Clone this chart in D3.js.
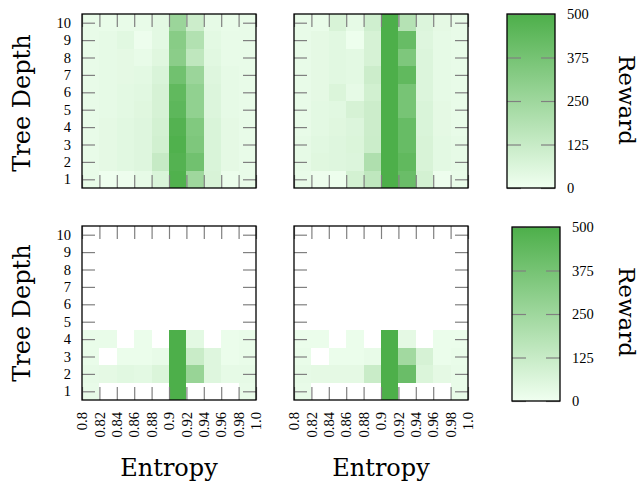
<!DOCTYPE html>
<html>
<head>
<meta charset="utf-8">
<script src="https://cdn.jsdelivr.net/npm/d3@7"></script>
<style>
  body { margin: 0; background: #fff; }
  svg { display: block; }
</style>
</head>
<body>
<svg id="chart" width="640" height="486"></svg>
<script>
// tick values and labels
var entropyTicks = [0.8, 0.82, 0.84, 0.86, 0.88, 0.9, 0.92, 0.94, 0.96, 0.98, 1.0];
var entropyLabels = ["0.8", "0.82", "0.84", "0.86", "0.88", "0.9", "0.92", "0.94", "0.96", "0.98", "1.0"];
var depths = [1, 2, 3, 4, 5, 6, 7, 8, 9, 10];
var rewardTicks = [0, 125, 250, 375, 500];

// reward per cell, row i = tree depth i+1, one column per entropy bin (null = no run)
var rewardTopLeft = [
  [25, 5, 10, 30, 70, 490, 250, 75, 15, 25],
  [25, 35, 45, 55, 130, 480, 390, 70, 35, 25],
  [25, 35, 45, 55, 95, 490, 350, 70, 35, 25],
  [25, 35, 45, 55, 90, 480, 340, 70, 35, 25],
  [25, 30, 40, 50, 80, 450, 290, 60, 30, 25],
  [25, 30, 40, 45, 80, 440, 290, 60, 30, 25],
  [25, 30, 35, 40, 70, 390, 260, 55, 30, 25],
  [25, 30, 35, 25, 50, 310, 150, 45, 25, 25],
  [25, 30, 45, 10, 40, 320, 190, 40, 25, 25],
  [25, 20, 25, 25, 40, 260, 110, 30, 20, 25]
];
var rewardTopRight = [
  [25, 10, 8, 90, 150, 500, 410, 90, 10, 25],
  [30, 50, 55, 60, 200, 500, 440, 75, 40, 30],
  [30, 45, 55, 65, 115, 500, 420, 75, 40, 30],
  [25, 40, 50, 60, 110, 500, 420, 70, 35, 25],
  [25, 40, 45, 80, 110, 500, 370, 70, 35, 25],
  [25, 35, 65, 30, 95, 500, 370, 60, 30, 25],
  [25, 35, 45, 40, 110, 500, 440, 60, 30, 25],
  [25, 35, 45, 40, 80, 500, 350, 60, 30, 25],
  [25, 35, 45, 8, 80, 500, 420, 55, 30, 25],
  [25, 20, 75, 30, 100, 500, 180, 60, 35, 25]
];
var rewardBottomLeft = [
  [25, null, null, null, null, 500, null, null, null, 25],
  [30, 35, 45, 40, 65, 500, 270, 55, 30, 30],
  [20, null, 15, 15, 25, 500, 120, 55, 15, 20],
  [20, 20, null, 15, null, 500, 40, null, 15, 20],
  [null, null, null, null, null, null, null, null, null, null],
  [null, null, null, null, null, null, null, null, null, null],
  [null, null, null, null, null, null, null, null, null, null],
  [null, null, null, null, null, null, null, null, null, null],
  [null, null, null, null, null, null, null, null, null, null],
  [null, null, null, null, null, null, null, null, null, null]
];
var rewardBottomRight = [
  [25, null, null, null, null, 500, null, null, null, 25],
  [30, 35, 35, 35, 120, 500, 410, 65, 35, 25],
  [20, null, 15, 15, 25, 500, 240, 80, 15, 20],
  [15, 15, null, 15, null, 500, 35, null, 15, 15],
  [null, null, null, null, null, null, null, null, null, null],
  [null, null, null, null, null, null, null, null, null, null],
  [null, null, null, null, null, null, null, null, null, null],
  [null, null, null, null, null, null, null, null, null, null],
  [null, null, null, null, null, null, null, null, null, null],
  [null, null, null, null, null, null, null, null, null, null]
];

var lightGreen = "rgb(240,255,240)";
var darkGreen = "rgb(77,175,74)";
var tickGray = "#808080";
var serif = "'Liberation Serif', 'Times New Roman', serif";
var titleFont = "'DejaVu Serif', serif";

var svg = d3.select("#chart");

var color = d3.scaleLinear().domain([0, 500]).range([lightGreen, darkGreen]);

// gradient for the colorbars
var grad = svg.append("defs").append("linearGradient")
  .attr("id", "rewardGrad")
  .attr("x1", 0).attr("y1", 1).attr("x2", 0).attr("y2", 0);
grad.append("stop").attr("offset", 0).attr("stop-color", lightGreen);
grad.append("stop").attr("offset", 1).attr("stop-color", darkGreen);

function drawPanel(left, top, data, showY, showX) {
  var size = 174;
  var x = d3.scaleLinear().domain([0.8, 1.0]).range([left, left + size]);
  var y = d3.scaleLinear().domain([0.5, 10.5]).range([top + size, top]);
  var g = svg.append("g");

  // cells
  data.forEach(function(row, r) {
    row.forEach(function(v, c) {
      if (v === null) return;
      var x0 = x(entropyTicks[c]);
      var x1 = x(entropyTicks[c + 1]);
      g.append("rect")
        .attr("x", x0)
        .attr("y", y(depths[r] + 0.5))
        .attr("width", x1 - x0)
        .attr("height", y(depths[r] - 0.5) - y(depths[r] + 0.5))
        .attr("fill", color(v))
        .attr("shape-rendering", "crispEdges");
    });
  });

  // inside ticks on all four sides
  var axes = [
    { ax: d3.axisBottom(x).tickValues(entropyTicks), t: "translate(0," + (top + size) + ")", labels: showX },
    { ax: d3.axisTop(x).tickValues(entropyTicks), t: "translate(0," + top + ")", labels: false },
    { ax: d3.axisLeft(y).tickValues(depths), t: "translate(" + left + ",0)", labels: showY },
    { ax: d3.axisRight(y).tickValues(depths), t: "translate(" + (left + size) + ",0)", labels: false }
  ];
  axes.forEach(function(a, k) {
    a.ax.tickSize(-13).tickPadding(11);
    if (k < 2) a.ax.tickFormat(function(d, i) { return entropyLabels[i]; });
    var ag = g.append("g").attr("transform", a.t).call(a.ax);
    ag.select(".domain").remove();
    ag.selectAll(".tick line").attr("stroke", tickGray).attr("stroke-width", 1.2);
    ag.selectAll("text").attr("font-family", serif).attr("font-size", 14.5).attr("fill", "#000");
    if (!a.labels) ag.selectAll("text").remove();
    else if (k === 0) {
      ag.selectAll("text")
        .attr("transform", "rotate(-90)")
        .attr("x", -12).attr("y", 0).attr("dy", "0.32em")
        .style("text-anchor", "end");
    }
  });

  // frame
  g.append("rect")
    .attr("x", left).attr("y", top)
    .attr("width", size).attr("height", size)
    .attr("fill", "none").attr("stroke", "#000").attr("stroke-width", 1.3);
}

function drawColorbar(left, top, labelY) {
  var w = 48, h = 174;
  var s = d3.scaleLinear().domain([0, 500]).range([top + h, top]);
  svg.append("rect")
    .attr("x", left).attr("y", top).attr("width", w).attr("height", h)
    .attr("fill", "url(#rewardGrad)");

  var right = svg.append("g").attr("transform", "translate(" + (left + w) + ",0)")
    .call(d3.axisRight(s).tickValues(rewardTicks).tickSize(-14).tickPadding(12));
  var leftAx = svg.append("g").attr("transform", "translate(" + left + ",0)")
    .call(d3.axisLeft(s).tickValues(rewardTicks).tickSize(-14));
  [right, leftAx].forEach(function(ag) {
    ag.select(".domain").remove();
    ag.selectAll(".tick line").attr("stroke", tickGray).attr("stroke-width", 1.2);
  });
  leftAx.selectAll("text").remove();
  right.selectAll("text").attr("font-family", serif).attr("font-size", 14.5).attr("fill", "#000");

  svg.append("rect")
    .attr("x", left).attr("y", top).attr("width", w).attr("height", h)
    .attr("fill", "none").attr("stroke", "#000").attr("stroke-width", 1.3);

  svg.append("text")
    .attr("transform", "translate(627," + labelY + ") rotate(90)")
    .attr("text-anchor", "middle").attr("dy", "0.35em")
    .attr("font-family", titleFont).attr("font-size", 23)
    .text("Reward");
}

drawPanel(82, 14, rewardTopLeft, true, false);
drawPanel(294, 14, rewardTopRight, false, false);
drawPanel(82, 226, rewardBottomLeft, true, true);
drawPanel(294, 226, rewardBottomRight, false, true);

drawColorbar(507, 14, 100);
drawColorbar(512, 227, 312);

// axis titles
[103, 313].forEach(function(cy) {
  svg.append("text")
    .attr("transform", "translate(22," + cy + ") rotate(-90)")
    .attr("text-anchor", "middle").attr("dy", "0.35em")
    .attr("font-family", titleFont).attr("font-size", 24)
    .text("Tree Depth");
});
[169, 381].forEach(function(cx) {
  svg.append("text")
    .attr("x", cx).attr("y", 476)
    .attr("text-anchor", "middle")
    .attr("font-family", titleFont).attr("font-size", 24)
    .text("Entropy");
});
</script>
</body>
</html>
